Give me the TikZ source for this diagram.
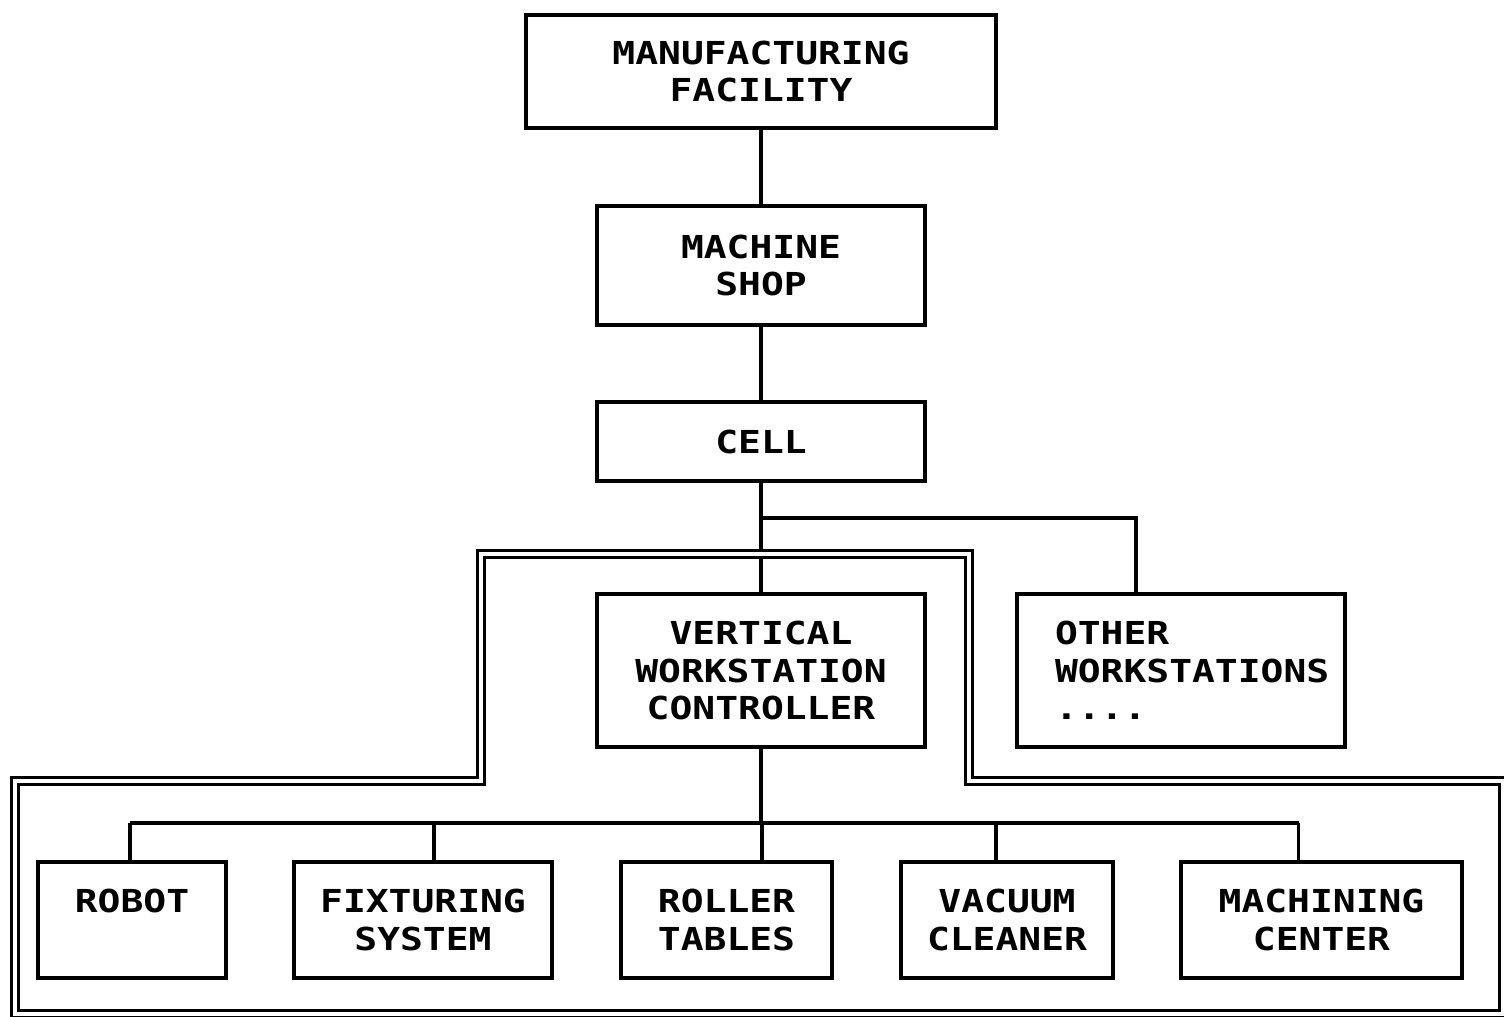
\documentclass[tikz,border=0pt]{standalone}
\usepackage{fontspec}
\newfontfamily\plotfont[FakeStretch=1.2]{DejaVu Sans Mono}
\usetikzlibrary{positioning,calc}

\begin{document}
\begin{tikzpicture}[
  box/.style={draw, line width=0.9pt, rectangle, align=center, inner sep=0pt,
              minimum width=3.28cm, font=\plotfont\bfseries\fontsize{9}{10.7}\selectfont},
  dev/.style={box, minimum height=1.16cm},
  ln/.style={line width=0.9pt},
  frame/.style={double, double distance=1.2pt, line width=0.95pt},
]
\useasboundingbox (0,0) rectangle (15.04,10.16);
\node[box, minimum width=4.70cm, minimum height=1.13cm] (mf) at (7.61,9.445) {MANUFACTURING\\FACILITY};
\node[box, minimum height=1.19cm] (ms) at (7.61,7.505) {MACHINE\\SHOP};
\node[box, minimum height=0.79cm] (cell) at (7.61,5.745) {CELL};
\node[box, minimum height=1.53cm] (vwc) at (7.61,3.455) {VERTICAL\\WORKSTATION\\CONTROLLER};
\node[box, minimum height=1.53cm, align=left, text width=2.52cm] (ows) at (11.81,3.455)
  {OTHER\\WORKSTATIONS\\....};
\node[dev, minimum width=1.88cm] (robot) at (1.32,0.96) {ROBOT\\\mbox{}};
\node[dev, minimum width=2.58cm] (fix) at (4.23,0.96) {FIXTURING\\SYSTEM};
\node[dev, minimum width=2.11cm] (roll) at (7.265,0.96) {ROLLER\\TABLES};
\node[dev, minimum width=2.12cm] (vac) at (10.07,0.96) {VACUUM\\CLEANER};
\node[dev, minimum width=2.81cm] (mach) at (13.215,0.96) {MACHINING\\CENTER};
\draw[ln] (mf) -- (ms);
\draw[ln] (ms) -- (cell);
\draw[ln] (cell) -- (vwc);
\coordinate (split) at (cell.south |- 0,4.98);
\draw[ln] (split) -| ([xshift=-0.45cm]ows.north);
\coordinate (bus) at (vwc.south |- 0,1.93);
\draw[ln] (vwc) -- (bus);
\foreach \n/\dx in {robot/-0.02, fix/0.11, roll/0.355, vac/-0.11, mach/-0.23}
  \draw[ln] ([xshift=\dx cm]\n.north) -- ([xshift=\dx cm]\n.north |- bus);
\draw[ln] ([xshift=-0.02cm]robot.north |- bus) -- ([xshift=-0.23cm]mach.north |- bus);
\draw[frame] (0.15,0.02) -- (0.15,2.35) -- (4.81,2.35) -- (4.81,4.62) -- (9.69,4.62)
  -- (9.69,2.35) -- (15.03,2.35) -- (15.03,0.02) -- cycle;
\end{tikzpicture}
\end{document}
